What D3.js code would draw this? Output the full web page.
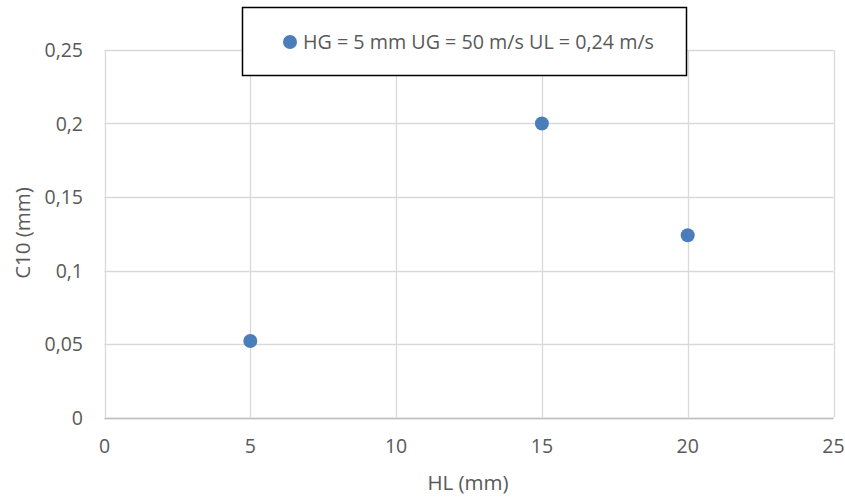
<!DOCTYPE html>
<html><head><meta charset="utf-8">
<script src="https://cdn.jsdelivr.net/npm/d3@7"></script>
<style>body{margin:0;background:#fff;} svg{display:block;}</style>
</head><body>
<svg id="chart" width="845" height="497"></svg>
<script>
const xValues = [5, 15, 20];
const yValues = [0.052, 0.2, 0.124];
const xTicks = [0, 5, 10, 15, 20, 25];
const yTicks = [0, 0.05, 0.1, 0.15, 0.2, 0.25];
const seriesName = "HG = 5 mm UG = 50 m/s UL = 0,24 m/s";
const xTitle = "HL (mm)";
const yTitle = "C10 (mm)";

const svg = d3.select("#chart");
const font = "'Open Sans', 'Noto Sans', sans-serif";
const m = {left: 104.5, right: 833.5, top: 50, bottom: 417.5};
const x = d3.scaleLinear().domain([0, 25]).range([m.left, m.right]);
const y = d3.scaleLinear().domain([0, 0.25]).range([m.bottom, m.top]);
const fmt = d => String(d).replace(".", ",");

// gridlines
svg.append("g").selectAll("line").data(yTicks).join("line")
  .attr("x1", m.left).attr("x2", m.right)
  .attr("y1", d => Math.round(y(d)) + 0.5).attr("y2", d => Math.round(y(d)) + 0.5)
  .attr("stroke", "#d9d9d9").attr("stroke-width", 1.3);
svg.append("g").selectAll("line").data(xTicks).join("line")
  .attr("y1", m.top).attr("y2", m.bottom)
  .attr("x1", d => Math.round(x(d)) + 0.5).attr("x2", d => Math.round(x(d)) + 0.5)
  .attr("stroke", "#d9d9d9").attr("stroke-width", 1.3);
// axis line
svg.append("line").attr("x1", m.left).attr("x2", m.right)
  .attr("y1", Math.round(y(0)) + 0.5).attr("y2", Math.round(y(0)) + 0.5)
  .attr("stroke", "#bfbfbf").attr("stroke-width", 1.5);

// tick labels
svg.append("g").selectAll("text").data(yTicks).join("text")
  .attr("x", 83).attr("y", d => y(d)).attr("dy", "0.36em")
  .attr("text-anchor", "end").attr("font-family", font).attr("font-size", 19.5)
  .attr("fill", "#595959").text(fmt);
svg.append("g").selectAll("text").data(xTicks).join("text")
  .attr("x", d => x(d)).attr("y", 446).attr("dy", "0.36em")
  .attr("text-anchor", "middle").attr("font-family", font).attr("font-size", 19.5)
  .attr("fill", "#595959").text(fmt);

// axis titles
svg.append("text").attr("x", 468).attr("y", 483).attr("dy", "0.36em")
  .attr("text-anchor", "middle").attr("font-family", font).attr("font-size", 20.5)
  .attr("fill", "#595959").text(xTitle);
svg.append("text").attr("transform", "translate(23,233) rotate(-90)").attr("dy", "0.36em")
  .attr("text-anchor", "middle").attr("font-family", font).attr("font-size", 20.5)
  .attr("fill", "#595959").text(yTitle);

// points
const pts = xValues.map((v, i) => ({x: v, y: yValues[i]}));
svg.append("g").selectAll("circle").data(pts).join("circle")
  .attr("cx", d => x(d.x)).attr("cy", d => y(d.y)).attr("r", 7)
  .attr("fill", "#4a7ebb");

// legend
const lg = svg.append("g");
lg.append("rect").attr("x", 242.5).attr("y", 7.5).attr("width", 444).attr("height", 68)
  .attr("fill", "#fff").attr("stroke", "#000").attr("stroke-width", 1.5);
lg.append("circle").attr("cx", 290).attr("cy", 42).attr("r", 7).attr("fill", "#4a7ebb");
lg.append("text").attr("x", 303).attr("y", 42).attr("dy", "0.36em")
  .attr("font-family", font).attr("font-size", 19.5).attr("fill", "#595959")
  .attr("textLength", 351).attr("lengthAdjust", "spacingAndGlyphs")
  .text(seriesName);
</script>
</body></html>
